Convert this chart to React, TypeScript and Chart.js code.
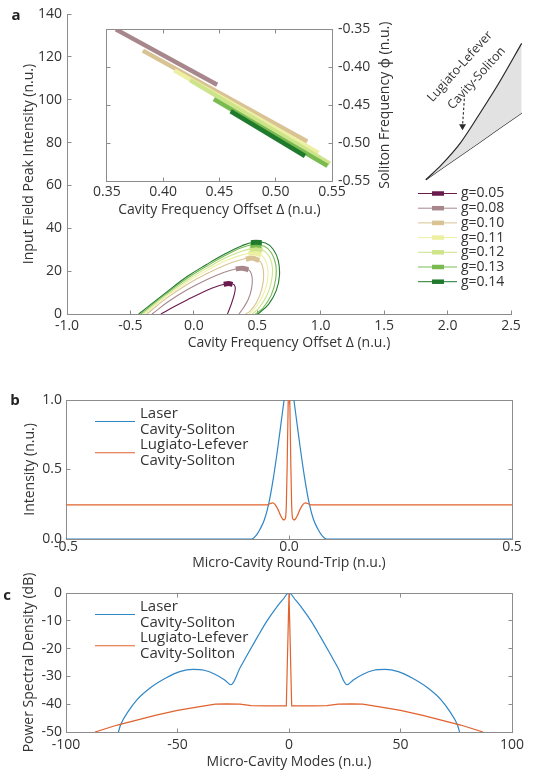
import React, { useEffect, useRef } from 'react';
import { Chart, registerables } from 'chart.js';

Chart.register(...registerables);

const FONT = '"Open Sans", "Noto Sans", "DejaVu Sans", sans-serif';
const TEXT = '#333333';
const AXIS = '#8c8c8c';
const TICK_SIZE = 14;
const TITLE_SIZE = 14;
const LEGEND_SIZE = 15;
const LEGEND_A_SIZE = 14;

// ---------------- Panel a : main axes ----------------
const gLabels = ['g=0.05', 'g=0.08', 'g=0.10', 'g=0.11', 'g=0.12', 'g=0.13', 'g=0.14'];
const gColors = ['#6a1b4d', '#a8878c', '#d9c293', '#edf0a3', '#cde48a', '#79bb50', '#1f7a2e'];

const curveG005 = [[-0.26, 0], [-0.15, 3.6], [-0.05, 6.7], [0.05, 9.6], [0.15, 12.2], [0.24, 13.9], [0.3, 14.1], [0.325, 12.8], [0.32, 9.5], [0.3, 5.5], [0.28, 2.2], [0.265, 0]];
const curveG008 = [[-0.33, 0], [-0.2, 5.8], [-0.05, 11.4], [0.1, 16.0], [0.24, 19.5], [0.34, 21.1], [0.41, 21.3], [0.445, 19.8], [0.46, 16.8], [0.455, 12.0], [0.43, 7.0], [0.39, 2.8], [0.355, 0]];
const curveG010 = [[-0.37, 0], [-0.22, 7.2], [-0.05, 13.9], [0.1, 18.8], [0.25, 22.9], [0.37, 25.3], [0.45, 26.1], [0.51, 25.2], [0.54, 22.5], [0.55, 17.5], [0.535, 11.5], [0.495, 5.5], [0.445, 1.5], [0.41, 0]];
const curveG011 = [[-0.39, 0], [-0.22, 8.0], [-0.05, 15.0], [0.1, 20.2], [0.25, 24.8], [0.38, 27.6], [0.46, 28.5], [0.525, 27.7], [0.565, 25.0], [0.585, 20.0], [0.575, 14.0], [0.54, 8.0], [0.48, 2.6], [0.435, 0]];
const curveG012 = [[-0.405, 0], [-0.22, 8.7], [-0.05, 15.9], [0.1, 21.3], [0.25, 26.2], [0.38, 29.4], [0.47, 30.5], [0.545, 29.7], [0.595, 26.8], [0.62, 21.5], [0.61, 14.8], [0.575, 8.6], [0.515, 3.0], [0.46, 0]];
const curveG013 = [[-0.42, 0], [-0.22, 9.4], [-0.05, 16.8], [0.1, 22.3], [0.25, 27.4], [0.38, 31.0], [0.47, 32.3], [0.555, 31.6], [0.61, 28.7], [0.645, 23.2], [0.645, 16.2], [0.61, 8.8], [0.545, 2.8], [0.485, 0]];
const curveG014 = [[-0.435, 0], [-0.22, 10.0], [-0.05, 17.6], [0.1, 23.1], [0.25, 28.2], [0.38, 31.9], [0.47, 33.5], [0.565, 33.1], [0.625, 30.2], [0.665, 25.0], [0.675, 18.0], [0.65, 11.0], [0.59, 4.6], [0.505, 0]];

const blobG005 = [[0.235, 13.9], [0.275, 14.2], [0.305, 13.8]];
const blobG008 = [[0.33, 21.0], [0.38, 21.4], [0.43, 20.6]];
const blobG010 = [[0.41, 25.6], [0.46, 26.1], [0.515, 25.0]];
const blobG011 = [[0.43, 28.1], [0.48, 28.5], [0.53, 27.5]];
const blobG012 = [[0.44, 30.2], [0.49, 30.5], [0.54, 29.8]];
const blobG013 = [[0.445, 32.0], [0.49, 32.3], [0.535, 31.9]];
const blobG014 = [[0.45, 33.3], [0.49, 33.5], [0.535, 33.3]];

const aXTicks = [-1.0, -0.5, 0, 0.5, 1.0, 1.5, 2.0, 2.5];
const aXTickLabels = ['-1.0', '-0.5', '0.0', '0.5', '1.0', '1.5', '2.0', '2.5'];
const aYTicks = [0, 20, 40, 60, 80, 100, 120, 140];
const aYTickLabels = ['0', '20', '40', '60', '80', '100', '120', '140'];

// ---------------- Panel a : inset ----------------
const insetG008 = [[0.358, -0.350], [0.448, -0.423]];
const insetG010 = [[0.382, -0.378], [0.528, -0.498]];
const insetG011 = [[0.410, -0.404], [0.538, -0.513]];
const insetG012 = [[0.424, -0.417], [0.548, -0.527]];
const insetG013 = [[0.445, -0.442], [0.546, -0.530]];
const insetG014 = [[0.460, -0.458], [0.526, -0.517]];

const insetXTicks = [0.35, 0.40, 0.45, 0.50, 0.55];
const insetXTickLabels = ['0.35', '0.40', '0.45', '0.50', '0.55'];
const insetYTicks = [-0.55, -0.50, -0.45, -0.40, -0.35];
const insetYTickLabels = ['-0.55', '-0.50', '-0.45', '-0.40', '-0.35'];

// ---------------- Panel a : schematic ----------------
const schemUpper = [[13.7, 9.7], [26.7, 18.9], [42.0, 32.0], [57.3, 49.1], [72.5, 66.9], [91.6, 91.4]];
const schemLower = [[13.7, 9.7], [26.7, 16.4], [42.0, 24.2], [57.3, 32.1], [72.5, 39.9], [91.6, 49.7]];
const schemArrow = [[45.0, 58.3], [43.5, 41.7]];

// ---------------- Panel b ----------------
const seriesNames = [['Laser', 'Cavity-Soliton'], ['Lugiato-Lefever', 'Cavity-Soliton']];
const seriesColors = ['#2f86c6', '#e0622e'];

const bLaserX = [-0.5, -0.084, -0.075, -0.065, -0.055, -0.045, -0.035, -0.025, -0.018, -0.011, -0.005, 0, 0.005, 0.011, 0.018, 0.025, 0.035, 0.045, 0.055, 0.065, 0.075, 0.084, 0.5];
const bLaserY = [0, 0, 0.02, 0.07, 0.14, 0.26, 0.44, 0.66, 0.83, 1.0, 1.14, 1.18, 1.14, 1.0, 0.83, 0.66, 0.44, 0.26, 0.14, 0.07, 0.02, 0, 0];
const bLLX = [-0.5, -0.05, -0.044, -0.037, -0.031, -0.025, -0.019, -0.014, -0.011, -0.008, -0.006, -0.004, -0.002, 0, 0.002, 0.004, 0.006, 0.008, 0.011, 0.014, 0.019, 0.025, 0.031, 0.037, 0.044, 0.05, 0.5];
const bLLY = [0.245, 0.245, 0.252, 0.26, 0.248, 0.215, 0.17, 0.142, 0.137, 0.15, 0.24, 0.55, 0.95, 1.2, 0.95, 0.55, 0.24, 0.15, 0.137, 0.142, 0.17, 0.215, 0.248, 0.26, 0.252, 0.245, 0.245];

const bXTicks = [-0.5, 0, 0.5];
const bXTickLabels = ['-0.5', '0.0', '0.5'];
const bYTicks = [0, 0.5, 1.0];
const bYTickLabels = ['0.0', '0.5', '1.0'];

// ---------------- Panel c ----------------
const cLaserX = [-76.5, -75.5, -72, -68.3, -62, -55, -49, -43, -38, -33, -29, -26, -22, -18, -14, -10, -6, -3, 0, 3, 6, 10, 14, 18, 22, 26, 29, 33, 38, 43, 49, 55, 62, 68.3, 72, 75.5, 76.5];
const cLaserY = [-50, -47.4, -42.5, -38.5, -34, -30.5, -28.3, -27.5, -27.8, -29.3, -31.2, -33, -27, -21.2, -15.6, -10.2, -5.6, -2.6, 0, -2.6, -5.6, -10.2, -15.6, -21.2, -27, -33, -31.2, -29.3, -27.8, -27.5, -28.3, -30.5, -34, -38.5, -42.5, -47.4, -50];
const cLLX = [-87, -77, -70, -60, -50, -40, -33, -28, -22, -17, -10, -1.2, 0, 1.2, 10, 17, 22, 28, 33, 40, 50, 60, 70, 77, 87];
const cLLY = [-50, -47.5, -46.1, -44.0, -42.2, -40.9, -40.0, -39.9, -40.0, -40.5, -40.6, -40.6, 0, -40.6, -40.6, -40.5, -40.0, -39.9, -40.0, -40.9, -42.2, -44.0, -46.1, -47.5, -50];

const cXTicks = [-100, -50, 0, 50, 100];
const cXTickLabels = ['-100', '-50', '0', '50', '100'];
const cYTicks = [-50, -40, -30, -20, -10, 0];
const cYTickLabels = ['-50', '-40', '-30', '-20', '-10', '0'];

// ---------------- helpers ----------------
const pairs = (arr: number[][]) => arr.map(([x, y]) => ({ x, y }));
const zip = (xs: number[], ys: number[]) => xs.map((x, i) => ({ x, y: ys[i] }));

type AxisOpt = {
  position: string; min: number; max: number; values: number[]; labels: string[];
  size: number; tickPad: number; title?: string; titlePad?: number; display?: boolean;
};

function axis(o: AxisOpt): any {
  const horizontal = o.position === 'bottom' || o.position === 'top';
  return {
    type: 'linear',
    display: o.display !== false,
    position: o.position,
    min: o.min,
    max: o.max,
    afterBuildTicks: (ax: any) => { ax.ticks = o.values.map((v) => ({ value: v })); },
    afterFit: (ax: any) => { if (horizontal) ax.height = o.size; else ax.width = o.size; },
    grid: { display: false, drawTicks: false },
    border: { display: true, color: AXIS, width: 1 },
    ticks: {
      autoSkip: false, maxRotation: 0, minRotation: 0, padding: o.tickPad, color: TEXT,
      font: { family: FONT, size: TICK_SIZE },
      callback: (_v: any, i: number) => o.labels[i],
    },
    title: o.title
      ? {
          display: true, text: o.title, color: TEXT, font: { family: FONT, size: TITLE_SIZE },
          padding: horizontal ? { top: 0, bottom: o.titlePad || 0 } : { top: o.titlePad || 0, bottom: 0 },
        }
      : { display: false },
  };
}

function baseOptions(padding: any): any {
  return {
    responsive: false,
    animation: false,
    events: [],
    layout: { padding },
    plugins: { legend: { display: false }, tooltip: { enabled: false } },
    elements: { point: { radius: 0 }, line: { borderCapStyle: 'butt' } },
  };
}

const al = (v: number) => Math.round(v - 0.5) + 0.5;

function framePlugin(box: boolean): any {
  return {
    id: 'frame',
    beforeDatasetsDraw(chart: any) {
      const { ctx, chartArea: ca, scales } = chart;
      const xs = scales.x;
      const ys = scales.y;
      const L = al(ca.left), R = al(ca.right), T = al(ca.top), B = al(ca.bottom);
      const len = 4;
      ctx.save();
      ctx.strokeStyle = AXIS;
      ctx.lineWidth = 1;
      ctx.beginPath();
      if (box) {
        ctx.rect(L, T, R - L, B - T);
      }
      xs.ticks.forEach((t: any) => {
        const px = al(xs.getPixelForValue(t.value));
        ctx.moveTo(px, B); ctx.lineTo(px, B - len);
        if (box) { ctx.moveTo(px, T); ctx.lineTo(px, T + len); }
      });
      ys.ticks.forEach((t: any) => {
        const py = al(ys.getPixelForValue(t.value));
        ctx.moveTo(L, py); ctx.lineTo(L + len, py);
        if (box) { ctx.moveTo(R, py); ctx.lineTo(R - len, py); }
      });
      ctx.stroke();
      ctx.restore();
    },
  };
}

function letterPlugin(letter: string, x: number, y: number): any {
  return {
    id: 'panelLetter',
    afterDraw(chart: any) {
      const ctx = chart.ctx;
      ctx.save();
      ctx.font = `bold 15px ${FONT}`;
      ctx.fillStyle = '#222';
      ctx.textAlign = 'center';
      ctx.textBaseline = 'alphabetic';
      ctx.fillText(letter, x, y);
      ctx.restore();
    },
  };
}

function rotatedTitlePlugin(text: string, x: number): any {
  return {
    id: 'rotTitle',
    afterDraw(chart: any) {
      const { ctx, chartArea: ca } = chart;
      ctx.save();
      ctx.translate(x, (ca.top + ca.bottom) / 2);
      ctx.rotate(-Math.PI / 2);
      ctx.font = `${TITLE_SIZE}px ${FONT}`;
      ctx.fillStyle = TEXT;
      ctx.textAlign = 'center';
      ctx.textBaseline = 'middle';
      ctx.fillText(text, 0, 0);
      ctx.restore();
    },
  };
}

const legendA: any = {
  id: 'legendA',
  afterDraw(chart: any) {
    const ctx = chart.ctx;
    ctx.save();
    ctx.font = `${LEGEND_A_SIZE}px ${FONT}`;
    ctx.textBaseline = 'middle';
    gLabels.forEach((label, i) => {
      const y = 193.5 + i * 14.7;
      ctx.strokeStyle = gColors[i];
      ctx.lineWidth = 1;
      ctx.beginPath(); ctx.moveTo(418, y); ctx.lineTo(457, y); ctx.stroke();
      ctx.lineWidth = 4.5;
      ctx.beginPath(); ctx.moveTo(432, y); ctx.lineTo(444, y); ctx.stroke();
      ctx.fillStyle = TEXT;
      ctx.fillText(label, 461, y);
    });
    ctx.restore();
  },
};

const seriesLegend: any = {
  id: 'seriesLegend',
  afterDraw(chart: any) {
    const { ctx, chartArea: ca } = chart;
    const rows = [13.5, 29.5, 45, 60.5];
    const x0 = ca.left + 29, x1 = ca.left + 69, tx = ca.left + 74;
    ctx.save();
    ctx.font = `${LEGEND_SIZE}px ${FONT}`;
    ctx.textBaseline = 'middle';
    seriesNames.forEach((lines, i) => {
      const yl = ca.top + (rows[2 * i] + rows[2 * i + 1]) / 2;
      ctx.strokeStyle = seriesColors[i];
      ctx.lineWidth = 1.2;
      ctx.beginPath(); ctx.moveTo(x0, yl); ctx.lineTo(x1, yl); ctx.stroke();
      ctx.fillStyle = TEXT;
      lines.forEach((t, j) => ctx.fillText(t, tx, ca.top + rows[2 * i + j]));
    });
    ctx.restore();
  },
};

const schematicText: any = {
  id: 'schematicText',
  afterDraw(chart: any) {
    const { ctx, scales } = chart;
    const items = [
      { t: 'Lugiato-Lefever', x: 41.5, y: 77.5 },
      { t: 'Cavity-Soliton', x: 55.0, y: 70.5 },
    ];
    ctx.save();
    ctx.font = `12.5px ${FONT}`;
    ctx.fillStyle = TEXT;
    ctx.textAlign = 'center';
    ctx.textBaseline = 'middle';
    items.forEach((it) => {
      ctx.save();
      ctx.translate(scales.x.getPixelForValue(it.x), scales.y.getPixelForValue(it.y));
      ctx.rotate((-48 * Math.PI) / 180);
      ctx.fillText(it.t, 0, 0);
      ctx.restore();
    });
    ctx.restore();
  },
};

// ---------------- chart builders ----------------
function buildMain(): any {
  const curves = [curveG005, curveG008, curveG010, curveG011, curveG012, curveG013, curveG014];
  const blobs = [blobG005, blobG008, blobG010, blobG011, blobG012, blobG013, blobG014];
  const datasets: any[] = [];
  curves.forEach((c, i) => {
    datasets.push({ data: pairs(c), borderColor: gColors[i], borderWidth: 1.1, tension: 0.4, pointRadius: 0, fill: false, order: 20 - i });
  });
  blobs.forEach((b, i) => {
    datasets.push({ data: pairs(b), borderColor: gColors[i], borderWidth: 5, tension: 0.3, pointRadius: 0, fill: false, order: 8 - i });
  });
  return {
    type: 'line',
    data: { datasets },
    options: {
      ...baseOptions({ top: 14, right: 25, left: 0, bottom: 0 }),
      scales: {
        x: axis({ position: 'bottom', min: -1, max: 2.5, values: aXTicks, labels: aXTickLabels, size: 38, tickPad: 4, title: 'Cavity Frequency Offset Δ (n.u.)', titlePad: 0.6 }),
        y: axis({ position: 'left', min: 0, max: 140, values: aYTicks, labels: aYTickLabels, size: 67, tickPad: 5, title: 'Input Field Peak Intensity (n.u.)', titlePad: 20.6 }),
      },
    },
    plugins: [framePlugin(false), legendA, letterPlugin('a', 16, 20)],
  };
}

function buildInset(): any {
  const lines = [insetG008, insetG010, insetG011, insetG012, insetG013, insetG014];
  const datasets = lines.map((l, k) => ({
    data: pairs(l), borderColor: gColors[k + 1], borderWidth: 4.5, pointRadius: 0, fill: false, order: 8 - k,
  }));
  return {
    type: 'line',
    data: { datasets },
    options: {
      ...baseOptions({ top: 13, left: 16, right: 0, bottom: 0 }),
      scales: {
        x: axis({ position: 'bottom', min: 0.35, max: 0.55, values: insetXTicks, labels: insetXTickLabels, size: 44, tickPad: 3, title: 'Cavity Frequency Offset Δ (n.u.)', titlePad: 6.6 }),
        y: axis({ position: 'right', min: -0.55, max: -0.35, values: insetYTicks, labels: insetYTickLabels, size: 68, tickPad: 6 }),
      },
    },
    plugins: [framePlugin(true), rotatedTitlePlugin('Soliton Frequency ϕ (n.u.)', 295)],
  };
}

function buildSchematic(): any {
  return {
    type: 'line',
    data: {
      datasets: [
        { data: pairs(schemUpper), borderColor: '#2a2a2a', borderWidth: 1.2, tension: 0.3, pointRadius: 0, fill: '+1', backgroundColor: '#e2e2e2' },
        { data: pairs(schemLower), borderColor: '#2a2a2a', borderWidth: 1.2, tension: 0, pointRadius: 0, fill: false },
        {
          data: pairs(schemArrow), borderColor: '#2a2a2a', borderWidth: 1.1, borderDash: [2.5, 2], fill: false,
          pointRadius: [0, 4], pointStyle: 'triangle', rotation: 180, pointBackgroundColor: '#2a2a2a', pointBorderColor: '#2a2a2a', pointBorderWidth: 0,
        },
      ],
    },
    options: {
      ...baseOptions(0),
      scales: {
        x: { type: 'linear', display: false, min: 0, max: 100 },
        y: { type: 'linear', display: false, min: 0, max: 100 },
      },
    },
    plugins: [schematicText],
  };
}

function buildB(): any {
  return {
    type: 'line',
    data: {
      datasets: [
        { data: zip(bLaserX, bLaserY), borderColor: seriesColors[0], borderWidth: 1.2, cubicInterpolationMode: 'monotone', pointRadius: 0, fill: false, order: 2 },
        { data: zip(bLLX, bLLY), borderColor: seriesColors[1], borderWidth: 1.2, cubicInterpolationMode: 'monotone', pointRadius: 0, fill: false, order: 1 },
      ],
    },
    options: {
      ...baseOptions({ top: 28, right: 24, left: 0, bottom: 0 }),
      scales: {
        x: axis({ position: 'bottom', min: -0.5, max: 0.5, values: bXTicks, labels: bXTickLabels, size: 33, tickPad: 0, title: 'Micro-Cavity Round-Trip (n.u.)', titlePad: 0.6 }),
        y: axis({ position: 'left', min: 0, max: 1, values: bYTicks, labels: bYTickLabels, size: 66, tickPad: 4, title: 'Intensity (n.u.)', titlePad: 21.6 }),
      },
    },
    plugins: [framePlugin(true), seriesLegend, letterPlugin('b', 15, 33)],
  };
}

function buildC(): any {
  return {
    type: 'line',
    data: {
      datasets: [
        { data: zip(cLaserX, cLaserY), borderColor: seriesColors[0], borderWidth: 1.2, cubicInterpolationMode: 'monotone', pointRadius: 0, fill: false, order: 2 },
        { data: zip(cLLX, cLLY), borderColor: seriesColors[1], borderWidth: 1.2, tension: 0, pointRadius: 0, fill: false, order: 1 },
      ],
    },
    options: {
      ...baseOptions({ top: 33, right: 24, left: 0, bottom: 0 }),
      scales: {
        x: axis({ position: 'bottom', min: -100, max: 100, values: cXTicks, labels: cXTickLabels, size: 43, tickPad: 4.6, title: 'Micro-Cavity Modes (n.u.)', titlePad: 4.9 }),
        y: axis({ position: 'left', min: -50, max: 0, values: cYTicks, labels: cYTickLabels, size: 66, tickPad: 4 }),
      },
    },
    plugins: [framePlugin(true), seriesLegend, rotatedTitlePlugin('Power Spectral Density (dB)', 29), letterPlugin('c', 7, 40)],
  };
}

function ChartCanvas(props: { left: number; top: number; width: number; height: number; build: () => any }) {
  const ref = useRef<HTMLCanvasElement | null>(null);
  useEffect(() => {
    if (!ref.current) return;
    const chart = new Chart(ref.current, props.build());
    return () => chart.destroy();
  }, []);
  return (
    <canvas
      ref={ref}
      width={props.width}
      height={props.height}
      style={{ position: 'absolute', left: props.left, top: props.top, width: props.width, height: props.height }}
    />
  );
}

export default function App() {
  return (
    <div style={{ position: 'absolute', left: 0, top: 0, width: 536, height: 775, background: '#ffffff', overflow: 'hidden' }}>
      <ChartCanvas left={0} top={0} width={536} height={352} build={buildMain} />
      <ChartCanvas left={90} top={15} width={310} height={210} build={buildInset} />
      <ChartCanvas left={405} top={25} width={131} height={175} build={buildSchematic} />
      <ChartCanvas left={0} top={372} width={536} height={200} build={buildB} />
      <ChartCanvas left={0} top={560} width={536} height={215} build={buildC} />
    </div>
  );
}
